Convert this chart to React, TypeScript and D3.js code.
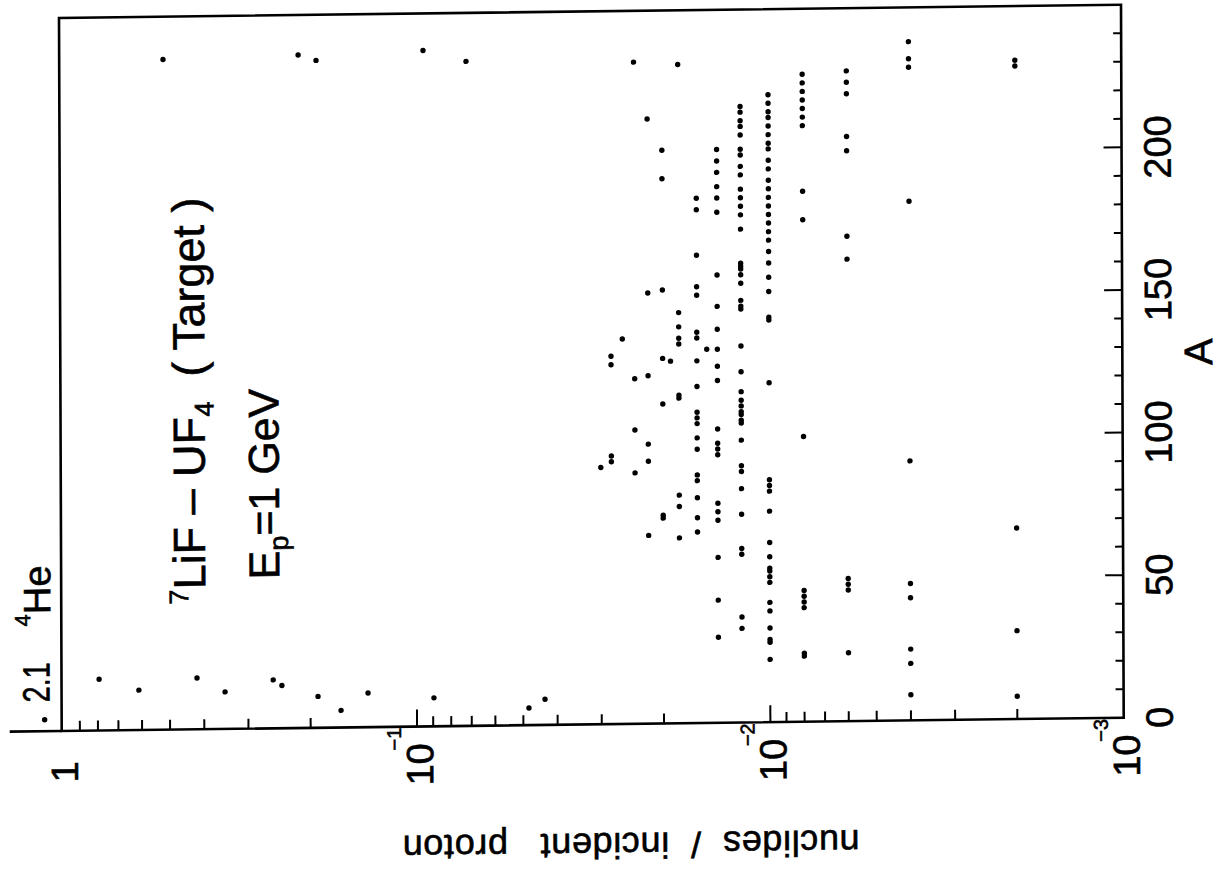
import React from "react";
import * as d3 from "d3";

// Residual nuclide yields (nuclides per incident proton) versus mass number A,
// 1 GeV protons on a 7LiF-UF4 target.

// Light fragments
const lightMasses = [18, 14, 18, 13, 17, 15, 11, 6, 12, 10, 6, 9];
const lightYields = [0.793, 0.612, 0.419, 0.349, 0.255, 0.241, 0.1905, 0.164, 0.1375, 0.0895, 0.0482, 0.0434];

// Heavy residues close to the target mass
const heavyMasses = [235, 236, 234, 237, 233];
const heavyYields = [0.515, 0.2135, 0.19, 0.0946, 0.0715];

// 4He, off the top of the scale
const heliumMass = 4;
const heliumYield = 2.1;

// Products that fall on discrete yield levels: mass numbers per level
const massesAt002 = [231, 229, 67, 31, 8];
const massesAt004 = [238, 232, 229, 182, 91, 48, 43, 25, 20, 9];
const massesAt006 = [228, 224, 220, 205, 200, 170, 162, 50, 48, 46, 24];
const massesAt008 = [227, 224, 221, 218, 215, 212, 209, 186, 176, 100, 46, 44, 42, 40, 24, 23];
const massesAt010 = [
  220, 217, 214, 212, 209, 206, 203, 201, 197, 194, 190, 187, 184, 181, 178, 175, 172, 169,
  165, 161, 156, 151, 142, 141, 119, 85, 83, 81, 74, 63, 58, 54, 53, 51, 49, 42, 39, 33, 29, 28, 22,
];
const massesAt012 = [
  216, 214, 211, 209, 206, 201, 199, 195, 192, 187, 184, 181, 178, 173,
  161, 160, 159, 157, 154, 148, 146, 145, 132, 123, 116, 113, 111, 109, 108, 106, 105, 99, 90, 88, 82, 73, 61, 59, 37, 33,
];
const massesAt014 = [201, 197, 193, 188, 184, 179, 157, 146, 138, 131, 125, 120, 103, 98, 96, 94, 77, 74, 71, 58, 43, 30];
const massesAt015 = [131];
const massesAt016 = [184, 180, 164, 153, 150, 137, 135, 127, 118, 109, 107, 105, 100, 96, 87, 85, 79, 72, 67];
const massesAt018 = [231, 144, 139, 135, 133, 115, 114, 80, 76, 65];
const massesAt019 = [127];
const massesAt020 = [201, 191, 152, 128, 112, 73, 72];
const massesAt022 = [212, 151, 122, 98, 92, 66];
const massesAt024 = [232, 121, 103, 88];
const massesAt026 = [135];
const massesAt028 = [129, 126, 94, 92];
const massesAt030 = [90];

const yieldLevels: [number, number[]][] = [
  [0.002, massesAt002],
  [0.004, massesAt004],
  [0.006, massesAt006],
  [0.008, massesAt008],
  [0.010, massesAt010],
  [0.012, massesAt012],
  [0.014, massesAt014],
  [0.015, massesAt015],
  [0.016, massesAt016],
  [0.018, massesAt018],
  [0.019, massesAt019],
  [0.020, massesAt020],
  [0.022, massesAt022],
  [0.024, massesAt024],
  [0.026, massesAt026],
  [0.028, massesAt028],
  [0.030, massesAt030],
];

// Axis ticks
const massTicks = [0, 50, 100, 150, 200];
const decadeExponents = [0, -1, -2, -3];

const FONT = "'Liberation Sans', Arial, Helvetica, sans-serif";

export default function App() {
  const left = 59;
  const right = 1121;
  const top = 18;
  const bottom = 731;

  // yield runs left to right (1 at the left edge), A runs bottom to top
  const yScaleLog = d3.scaleLog().domain([1, 1e-3]).range([left + 2, right]);
  const aScale = d3.scaleLinear().domain([0, 250]).range([bottom, top]);

  const points: { a: number; v: number }[] = [];
  lightMasses.forEach((a, i) => points.push({ a, v: lightYields[i] }));
  heavyMasses.forEach((a, i) => points.push({ a, v: heavyYields[i] }));
  yieldLevels.forEach(([v, masses]) => masses.forEach((a) => points.push({ a, v })));

  const minorLog: number[] = [];
  [1, 0.1, 0.01].forEach((d) => {
    for (let k = 2; k <= 9; k++) minorLog.push((k * d) / 10);
  });
  const majorLog = [0.1, 0.01];
  const massMinor = d3.range(10, 250, 10).filter((a) => a % 50 !== 0);
  const massMajor = [50, 100, 150, 200];

  // values above the axis maximum sit just outside the frame
  const clampX = (v: number) => (v > 1 ? yScaleLog(1) - 19 : yScaleLog(v));

  // heavier strokes on the lettering
  const ink = { fill: "#000", stroke: "#000", strokeWidth: 0.6 };

  return (
    <svg
      width={1227}
      height={875}
      style={{ position: "absolute", left: 0, top: 0, background: "#fff" }}
      fontFamily={FONT}
    >
      <rect x={0} y={0} width={1227} height={875} fill="#fff" />
      <g transform="matrix(1,-0.0125,0.0038,1,-0.068,0.7375)">
        {/* frame */}
        <rect x={left} y={top} width={right - left} height={bottom - top} fill="none" stroke="#000" strokeWidth={2.6} />
        <line x1={7} x2={left} y1={bottom} y2={bottom} stroke="#000" strokeWidth={2.6} />

        {/* yield ticks on the lower edge */}
        {minorLog.map((v) => (
          <line key={"mi" + v} x1={yScaleLog(v)} x2={yScaleLog(v)} y1={bottom} y2={bottom - 10} stroke="#000" strokeWidth={2} />
        ))}
        {majorLog.map((v) => (
          <line key={"ma" + v} x1={yScaleLog(v)} x2={yScaleLog(v)} y1={bottom} y2={bottom - 17} stroke="#000" strokeWidth={2} />
        ))}

        {/* mass ticks on the right edge */}
        {massMinor.map((a) => (
          <line key={"am" + a} x1={right} x2={right - 8} y1={aScale(a)} y2={aScale(a)} stroke="#000" strokeWidth={2} />
        ))}
        {massMajor.map((a) => (
          <line key={"aM" + a} x1={right} x2={right - 18} y1={aScale(a)} y2={aScale(a)} stroke="#000" strokeWidth={2} />
        ))}

        <g {...ink}>
          {/* mass tick labels */}
          {massTicks.map((a) => (
            <text key={"al" + a} transform={`translate(1170,${aScale(a)}) rotate(-90)`} textAnchor="middle" fontSize={38}>
              {a}
            </text>
          ))}
          <text transform={`translate(1211,${aScale(128)}) rotate(-90)`} textAnchor="middle" fontSize={40}>
            A
          </text>

          {/* yield tick labels */}
          {decadeExponents.map((e) => {
            const v = Math.pow(10, e);
            const px = yScaleLog(v);
            if (e === 0)
              return (
                <text key="d0" transform={`translate(${px + 14},772) rotate(-90)`} textAnchor="middle" fontSize={38}>
                  1
                </text>
              );
            return (
              <text key={"d" + e} transform={`translate(${px + 16},790) rotate(-90)`} textAnchor="start" fontSize={38}>
                10
                <tspan fontSize={20} dx={-7} dy={-32}>
                  {"\u2212" + String(-e)}
                </tspan>
              </text>
            );
          })}

          {/* axis title, set upside down */}
          <text
            transform="translate(628,840) rotate(180)"
            textAnchor="middle"
            fontSize={36}
            style={{ whiteSpace: "pre" }}
            textLength={457}
            lengthAdjust="spacing"
          >
            {"nuclides  /  incident   proton"}
          </text>

          {/* annotations */}
          <text transform="translate(203,606) rotate(-90)" fontSize={45} style={{ whiteSpace: "pre" }}>
            <tspan fontSize={27} dy={-17}>7</tspan>
            <tspan dy={17}>{"LiF \u2013 UF"}</tspan>
            <tspan fontSize={27} dy={9}>4</tspan>
            <tspan dy={-9}>{"  ( Target )"}</tspan>
          </text>
          <text transform="translate(277,582) rotate(-90)" fontSize={43} style={{ whiteSpace: "pre" }}>
            E<tspan fontSize={27} dy={9}>p</tspan>
            <tspan dy={-9}>{"=1 GeV"}</tspan>
          </text>
          <text transform="translate(47,702) rotate(-90)" fontSize={38} textLength={40} lengthAdjust="spacingAndGlyphs">
            {String(heliumYield)}
          </text>
          <text transform="translate(48,626) rotate(-90)" fontSize={38}>
            <tspan fontSize={22} dy={-20}>4</tspan>
            <tspan dy={20}>He</tspan>
          </text>
        </g>

        {/* data */}
        <circle cx={clampX(heliumYield)} cy={aScale(heliumMass)} r={2.7} fill="#000" />
        {points.map((p, i) => (
          <circle key={i} cx={clampX(p.v)} cy={aScale(p.a)} r={2.7} fill="#000" />
        ))}
      </g>
    </svg>
  );
}
